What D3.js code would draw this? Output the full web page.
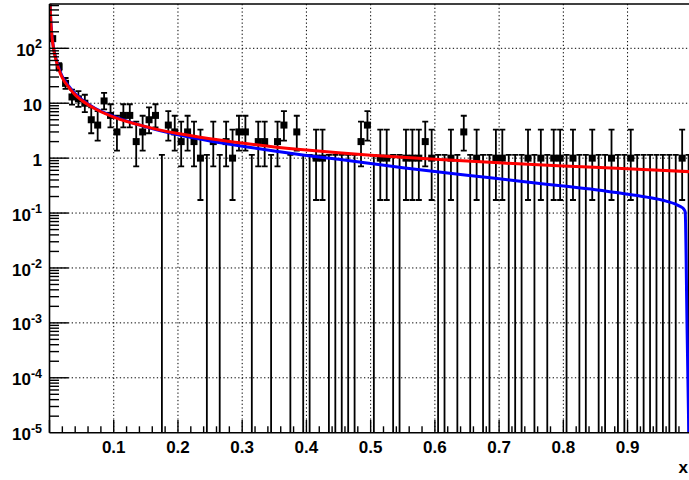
<!DOCTYPE html>
<html><head><meta charset="utf-8">
<script src="https://cdn.jsdelivr.net/npm/d3@7"></script>
<style>
body{margin:0;background:#fff}
svg{display:block}
text{font-family:"Liberation Sans",Arial,Helvetica,sans-serif;font-weight:bold;fill:#000}
</style>
</head><body>
<svg id="chart" width="689" height="480"></svg>
<script>
// ---- data ----
const binEdgesLow = 0, binEdgesHigh = 1;
const counts = [150,46,23,13,12,10,5,4,11,6,
                3,6,6,2,3,5,6,0,4,3,
                2,3,2,1,0,2,0,2,1,3,
                3,0,2,2,0,2,4,0,3,0,
                0,1,1,0,0,0,0,0,2,4,
                0,1,1,0,0,1,1,1,2,1,
                0,0,1,0,3,0,1,0,0,1,
                1,0,0,0,1,0,1,0,1,1,
                0,1,0,0,1,0,0,1,0,0,
                1,0,0,0,0,0,0,0,1,0];
// Poisson (Garwood) interval bounds, by bin content
const poisCount = [0,1,2,3,4,5,6,7,10,11,12,13,23,46,150];
const poisLow   = [0,0.173,0.708,1.367,2.086,2.840,3.620,4.419,6.891,7.726,8.567,9.411,18.3,39.4,138];
const poisHigh  = [1.148,3.300,4.638,5.918,7.163,8.382,9.584,10.77,14.27,15.42,16.56,17.70,28.8,53.8,163];

const redX = [0.0008,0.0015,0.002,0.003,0.004,0.005,0.007,0.01,0.015,0.02,0.03,0.04,0.05,0.07,0.1,0.15,0.2,0.25,0.3,0.35,0.4,0.45,0.5,0.6,0.7,0.8,0.9,0.95,1.0];
const redY = [800,420,310,205,155,125,88,62,40,29,19.5,14.2,11.3,8.0,5.6,3.75,2.8,2.25,1.88,1.6,1.4,1.25,1.13,0.95,0.82,0.72,0.64,0.6,0.565];
const blueX = [0.0008,0.0015,0.002,0.003,0.004,0.005,0.007,0.01,0.015,0.02,0.03,0.04,0.05,0.07,0.1,0.15,0.2,0.25,0.3,0.35,0.4,0.45,0.5,0.55,0.6,0.65,0.7,0.75,0.8,0.85,0.9,0.93,0.96,0.975,0.983,0.9875,0.9897,0.9925,0.9953];
const blueY = [830,440,325,215,162,130,92,65,42,30.5,20.5,14.8,11.7,8.2,5.75,3.7,2.65,2.05,1.65,1.35,1.12,0.95,0.8,0.67,0.57,0.49,0.42,0.36,0.31,0.265,0.22,0.195,0.165,0.145,0.13,0.118,0.105,0.001,0.00001];

const xTickLabels = ["0.1","0.2","0.3","0.4","0.5","0.6","0.7","0.8","0.9"];
const yTickExponents = [2,1,0,-1,-2,-3,-4,-5];
const xTitle = "x";

// ---- layout ----
const svg = d3.select("#chart");
const L = 49.5, R = 691.8, T = 4, B = 432.7;
const x = d3.scaleLinear().domain([binEdgesLow, binEdgesHigh]).range([L, R]);
const y = d3.scaleLog().domain([1e-5, 641]).range([B, T]);
const nb = counts.length, bw = (binEdgesHigh - binEdgesLow) / nb;

svg.append("defs").append("clipPath").attr("id","frame")
  .append("rect").attr("x",L).attr("y",T).attr("width",R-L).attr("height",B-T);

// grid
const grid = svg.append("g").attr("stroke","#000").attr("stroke-width",1).attr("stroke-dasharray","1.3,2.4");
xTickLabels.forEach(t => {
  const xv = x(+t);
  grid.append("line").attr("x1",xv).attr("x2",xv).attr("y1",T).attr("y2",B);
});
yTickExponents.filter(e => e > -5).forEach(e => {
  const yv = y(Math.pow(10,e));
  grid.append("line").attr("x1",L).attr("x2",R).attr("y1",yv).attr("y2",yv);
});

// error bars + markers
const plot = svg.append("g").attr("clip-path","url(#frame)");
const eb = plot.append("g").attr("stroke","#000").attr("stroke-width",1.8);
counts.forEach((n, i) => {
  const k = poisCount.indexOf(n);
  const lo = poisLow[k], hi = poisHigh[k];
  const cx = x(binEdgesLow + (i + 0.5) * bw);
  const yLo = lo > 0 ? y(lo) : B + 2;
  const yHi = y(hi);
  eb.append("line").attr("x1",cx).attr("x2",cx).attr("y1",yLo).attr("y2",yHi);
  eb.append("line").attr("x1",cx-3).attr("x2",cx+3).attr("y1",yHi).attr("y2",yHi);
  if (lo > 0) eb.append("line").attr("x1",cx-3).attr("x2",cx+3).attr("y1",yLo).attr("y2",yLo);
});
const ms = 7;
counts.forEach((n, i) => {
  if (n <= 0) return;
  const cx = x(binEdgesLow + (i + 0.5) * bw);
  plot.append("rect").attr("x",cx-ms/2).attr("y",y(n)-ms/2).attr("width",ms).attr("height",ms).attr("fill","#000");
});

// curves
const line = d3.line().x(d => x(d[0])).y(d => y(d[1])).curve(d3.curveMonotoneX);
plot.append("path").datum(blueX.map((v,i)=>[v,blueY[i]]))
  .attr("d",line).attr("fill","none").attr("stroke","#0000ff").attr("stroke-width",3);
plot.append("path").datum(redX.map((v,i)=>[v,redY[i]]))
  .attr("d",line).attr("fill","none").attr("stroke","#ff0000").attr("stroke-width",3);

// frame / axes
const ax = svg.append("g").attr("stroke","#000");
ax.append("line").attr("x1",L).attr("x2",L).attr("y1",T).attr("y2",B).attr("stroke-width",1.6);
ax.append("line").attr("x1",L).attr("x2",R).attr("y1",B).attr("y2",B).attr("stroke-width",1.6);
ax.append("line").attr("x1",L).attr("x2",R).attr("y1",T).attr("y2",T).attr("stroke-width",1.6);

// y ticks (log)
y.ticks().forEach(v => {
  if (v <= 1e-5 * 1.0001) return;
  const m = Math.round(v / Math.pow(10, Math.floor(Math.log10(v) + 1e-9)));
  const len = m === 1 ? 19 : 9.5;
  const yv = y(v);
  ax.append("line").attr("x1",L).attr("x2",L+len).attr("y1",yv).attr("y2",yv).attr("stroke-width",1.4);
});
// x ticks
d3.range(0, 1.0001, 0.02).forEach(v => {
  const major = Math.abs(v*10 - Math.round(v*10)) < 1e-6;
  const xv = x(v);
  ax.append("line").attr("x1",xv).attr("x2",xv).attr("y1",B).attr("y2",B-(major?12.8:6.4)).attr("stroke-width",1.4);
});

// labels
xTickLabels.forEach(t => {
  svg.append("text").attr("x",x(+t)).attr("y",452.8).attr("text-anchor","middle")
    .attr("font-size",17).text(t);
});
yTickExponents.forEach(e => {
  const t = svg.append("text").attr("x",42).attr("y",y(Math.pow(10,e))+7.6)
    .attr("text-anchor","end").attr("font-size",17);
  if (e === 0) t.text("1");
  else if (e === 1) t.text("10");
  else {
    t.append("tspan").text("10");
    t.append("tspan").attr("dy",-7.5).attr("font-size",12.5).text(String(e));
  }
});
svg.append("text").attr("x",688).attr("y",473).attr("text-anchor","end").attr("font-size",17).text(xTitle);
</script>
</body></html>
